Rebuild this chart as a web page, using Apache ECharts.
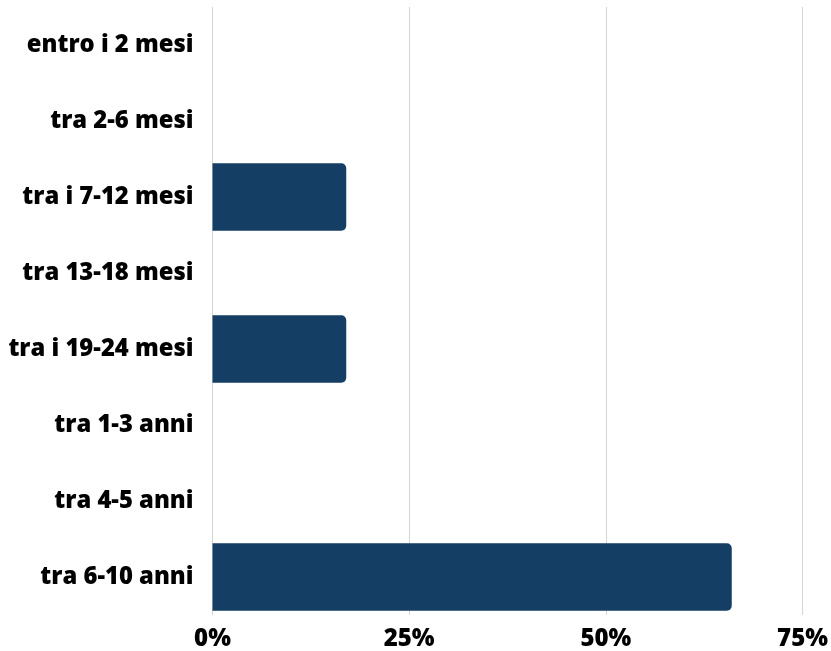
<!DOCTYPE html>
<html>
<head>
<meta charset="utf-8">
<script src="https://cdn.jsdelivr.net/npm/echarts@6/dist/echarts.min.js"></script>
<style>html,body{margin:0;padding:0;background:#fff;}#c{width:831px;height:651px;}</style>
</head>
<body>
<div id="c"></div>
<script>
const categories = ["entro i 2 mesi","tra 2-6 mesi","tra i 7-12 mesi","tra 13-18 mesi","tra i 19-24 mesi","tra 1-3 anni","tra 4-5 anni","tra 6-10 anni"];
const values = [0, 0, 17, 0, 17, 0, 0, 66];
const xTicks = { min: 0, max: 75, interval: 25 };

const chart = echarts.init(document.getElementById('c'), null, {renderer: 'canvas'});
chart.setOption({
  animation: false,
  backgroundColor: '#ffffff',
  grid: { left: 212.5, right: 26.5, top: 7, height: 610.5, containLabel: false },
  xAxis: {
    type: 'value', min: xTicks.min, max: xTicks.max, interval: xTicks.interval,
    axisLine: { show: false }, axisTick: { show: false },
    splitLine: { show: true, lineStyle: { color: '#d4d4d4', width: 1 } },
    axisLabel: { formatter: '{value}%', color: '#000', fontFamily: 'Open Sans', fontWeight: 800, fontSize: 24, margin: 12 }
  },
  yAxis: {
    type: 'category', inverse: true, data: categories,
    axisLine: { show: false }, axisTick: { show: false }, splitLine: { show: false },
    axisLabel: { color: '#000', fontFamily: 'Open Sans', fontWeight: 800, fontSize: 23.8, margin: 19 }
  },
  series: [{
    type: 'bar', data: values, barWidth: 67.5,
    itemStyle: { color: '#143e64', borderRadius: [0, 5, 5, 0] }
  }]
});
</script>
</body>
</html>
